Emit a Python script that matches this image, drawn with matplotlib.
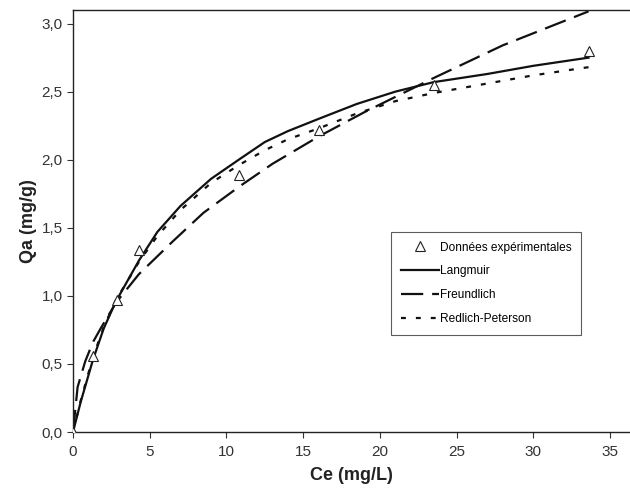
import matplotlib
matplotlib.use("Agg")
import matplotlib.pyplot as plt
from matplotlib.ticker import FuncFormatter

plt.rcParams['font.family'] = ['Liberation Sans', 'DejaVu Sans']

# experimental points
ce_exp = [0, 1.3, 2.9, 4.3, 10.8, 16.0, 23.5, 33.6]
qa_exp = [0, 0.56, 0.97, 1.34, 1.89, 2.22, 2.55, 2.80]

# model curves
ce_lang = [0, 0.5, 1.3, 2.0, 2.8, 3.5, 4.3, 5.5, 7, 9, 10.8, 12.5, 14, 16, 18.5, 21, 23.5, 27, 30, 33.6]
qa_lang = [0, 0.22, 0.53, 0.76, 0.96, 1.10, 1.26, 1.47, 1.66, 1.86, 2.00, 2.13, 2.21, 2.30, 2.41, 2.50, 2.57, 2.63, 2.69, 2.75]

ce_freu = [0, 0.3, 0.8, 1.3, 1.8, 2.8, 4.3, 6.5, 8.5, 10.8, 13, 16, 19, 23.5, 28, 33.6]
qa_freu = [0, 0.33, 0.52, 0.66, 0.76, 0.95, 1.16, 1.40, 1.61, 1.80, 1.97, 2.17, 2.35, 2.60, 2.84, 3.09]

ce_rp = [0, 0.5, 1.3, 2.0, 2.8, 3.5, 4.3, 5.5, 7, 9, 10.8, 12.5, 14, 16, 18.5, 21, 23.5, 27, 30, 33.6]
qa_rp = [0, 0.23, 0.55, 0.77, 0.97, 1.10, 1.25, 1.44, 1.63, 1.83, 1.96, 2.07, 2.15, 2.23, 2.34, 2.43, 2.49, 2.56, 2.62, 2.68]

fig = plt.figure(figsize=(6.3, 4.9), dpi=100)
ax = fig.add_axes([73/630, 58/490, 557/630, 422/490])

ax.plot(ce_exp, qa_exp, ls='none', marker='^', ms=7, mfc='white', mec='#222222', mew=0.8,
        label='Données expérimentales', zorder=5)
ax.plot(ce_lang, qa_lang, color='#111111', lw=1.6, label='Langmuir')
ax.plot(ce_freu, qa_freu, color='#111111', lw=1.6, dashes=(10, 4), label='Freundlich')
ax.plot(ce_rp, qa_rp, color='#111111', lw=1.6, dashes=(2.2, 4.5), label='Redlich-Peterson')

ax.set_xlim(0, 36.3)
ax.set_ylim(0, 3.1)
ax.set_xticks(range(0, 36, 5))
ax.set_yticks([0, 0.5, 1.0, 1.5, 2.0, 2.5, 3.0])
ax.yaxis.set_major_formatter(FuncFormatter(lambda v, p: f"{v:.1f}".replace('.', ',')))
ax.tick_params(direction='out', length=4, width=0.8, labelsize=11, colors='#333333', labelcolor='#333333')
ax.tick_params(axis='x', pad=5)
ax.spines['right'].set_visible(False)
for s in ['left', 'bottom', 'top']:
    ax.spines[s].set_color('#222222')
    ax.spines[s].set_linewidth(1.0)

ax.set_xlabel('Ce (mg/L)', fontsize=13, fontweight='bold', color='#222222', labelpad=6)
ax.set_ylabel('Qa (mg/g)', fontsize=13, fontweight='bold', color='#222222', labelpad=3)

leg = ax.legend(loc='upper left', bbox_to_anchor=(0.571, 0.474), fontsize=8.6, frameon=True,
                fancybox=False, edgecolor='#333333', handlelength=3.2, handletextpad=0.1,
                labelspacing=1.0, borderpad=0.8, borderaxespad=0)
leg.get_frame().set_linewidth(0.8)

fig.savefig('out.png', dpi=100, facecolor='white')
